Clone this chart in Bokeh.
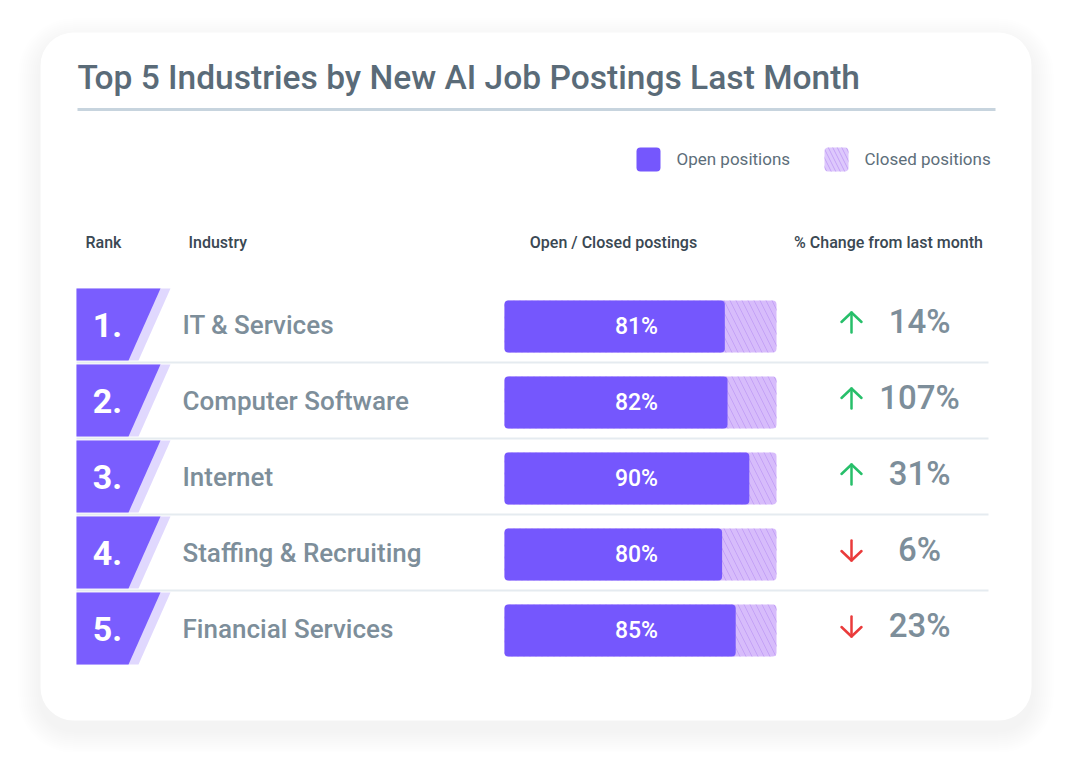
from bokeh.plotting import figure
from bokeh.models import Range1d, ColumnDataSource
from bokeh.core.properties import value
from bokeh.embed import file_html
from bokeh.resources import INLINE

# ---------------- data ----------------
title = "Top 5 Industries by New AI Job Postings Last Month"
ranks = [1, 2, 3, 4, 5]
industries = ["IT & Services", "Computer Software", "Internet",
              "Staffing & Recruiting", "Financial Services"]
open_pct = [81, 82, 90, 80, 85]
change_pct = [14, 107, 31, -6, -23]
headers = ["Rank", "Industry", "Open / Closed postings", "% Change from last month"]
legend_labels = ["Open positions", "Closed positions"]

# ---------------- style ----------------
FONT = "Roboto"
FONT_MED = "Roboto Medium"
PURPLE = "#7557fd"
LAVENDER = "#d7bcfb"
HATCH = "#c4a2f6"
RANK_BACK = "#e0d8fe"
RANK_FRONT = "#7a5dfe"
TITLE_C = "#5a6b78"
NAME_C = "#7d8e9a"
HEAD_C = "#3a4853"
SEP_C = "#e5ebf0"
UP_C = "#27bf6a"
DOWN_C = "#ea3b3b"

# layout (page pixels)
W, H = 1056, 752
BAR_X0, BAR_PX = 504, 272          # bar start and px for 100 %
ROW_Y0, ROW_PITCH = 250, 76        # page y of row 0, row pitch

p = figure(width=W, height=H, x_range=Range1d(0, W), y_range=Range1d(H, 0),
           output_backend="svg", toolbar_location=None, min_border=0,
           x_axis_location=None, y_axis_location=None)
p.grid.visible = False
p.outline_line_color = None
p.background_fill_color = "white"
p.border_fill_color = "white"

p.extra_x_ranges = {"pct": Range1d((0 - BAR_X0) * 100 / BAR_PX, (W - BAR_X0) * 100 / BAR_PX)}
p.extra_y_ranges = {"rows": Range1d((H - ROW_Y0) / ROW_PITCH, (0 - ROW_Y0) / ROW_PITCH)}

# ---------------- card with shadow ----------------
for i in range(11, 0, -1):
    d = i * 2
    p.quad(left=40 - d, right=1031 + d, top=32 - d + 8, bottom=720 + d + 10,
           border_radius=33 + d, fill_color="#556070", fill_alpha=0.008, line_color=None)
p.quad(left=40, right=1031, top=32, bottom=720, border_radius=33,
       fill_color="white", line_color=None)

# ---------------- title ----------------
p.text(x=[77], y=[77], text=[title], text_font=value(FONT_MED), text_font_size="33.5px",
       text_color=TITLE_C, text_baseline="middle", text_align="left")
p.segment(x0=[77], x1=[995], y0=[109], y1=[109], line_color="#c7d4de", line_width=3)

# ---------------- legend ----------------
p.quad(left=[636], right=[660], top=[147], bottom=[171], border_radius=4,
       fill_color=PURPLE, line_color=None)
p.quad(left=[824], right=[848], top=[147], bottom=[171], border_radius=4,
       fill_color="#ddc8fc", line_color=None, hatch_pattern="\\", hatch_color=HATCH,
       hatch_scale=9, hatch_weight=1)
p.text(x=[676, 864], y=[158, 158], text=legend_labels, text_font=value(FONT),
       text_font_size="17px", text_color="#5d6e7a", text_baseline="middle")

# ---------------- headers ----------------
p.text(x=[85, 188], y=[242, 242], text=headers[:2], text_font=value(FONT_MED),
       text_font_size="16px", text_color=HEAD_C, text_baseline="middle", text_align="left")
p.text(x=[613, 888], y=[242, 242], text=headers[2:], text_font=value(FONT_MED),
       text_font_size="16px", text_color=HEAD_C, text_baseline="middle", text_align="center")

# ---------------- rows ----------------
top_off, bot_off = -38 / ROW_PITCH, 34 / ROW_PITCH
back_xs, back_ys, front_xs, front_ys = [], [], [], []
for r in ranks:
    back_xs.append([76, 170, 138, 76])
    back_ys.append([r + top_off, r + top_off, r + bot_off, r + bot_off])
    front_xs.append([76, 160, 128, 76])
    front_ys.append([r + top_off, r + top_off, r + bot_off, r + bot_off])
p.patches(back_xs, back_ys, fill_color=RANK_BACK, line_color=None, y_range_name="rows")
p.patches(front_xs, front_ys, fill_color=RANK_FRONT, line_color=None, y_range_name="rows")

sep_y = [r + 36 / ROW_PITCH for r in ranks[:-1]]
p.segment(x0=76, x1=988, y0=sep_y, y1=sep_y, line_color=SEP_C, line_width=2,
          y_range_name="rows")

src = ColumnDataSource(dict(
    rank=ranks,
    rank_label=[f"{r}." for r in ranks],
    name=industries,
    open=open_pct,
    full=[100] * len(ranks),
    open_label=[f"{v}%" for v in open_pct],
    change_label=[f"{abs(v)}%" for v in change_pct],
    change_y=[r - 5 / ROW_PITCH for r in ranks],
    text_y=[r - 2 / ROW_PITCH for r in ranks],
    rank_y=[r - 2 / ROW_PITCH for r in ranks],
))

p.text(x=107, y="rank_y", text="rank_label", source=src, text_font=value(FONT),
       text_font_style="bold", text_font_size="34px", text_color="white",
       text_baseline="middle", text_align="center", y_range_name="rows")
p.text(x=182, y="text_y", text="name", source=src, text_font=value(FONT_MED),
       text_font_size="26px", text_color=NAME_C, text_baseline="middle",
       y_range_name="rows")

bar_h = 52 / ROW_PITCH
p.hbar(y="rank", left=0, right="full", height=bar_h, source=src, fill_color=LAVENDER,
       line_color=None, hatch_pattern="\\", hatch_color=HATCH, hatch_scale=12,
       hatch_weight=1, border_radius=4, x_range_name="pct", y_range_name="rows")
p.hbar(y="rank", left=0, right="open", height=bar_h, source=src, fill_color=PURPLE,
       line_color=None, border_radius=4, x_range_name="pct", y_range_name="rows")
p.text(x=48.5, y="rank", text="open_label", source=src, text_font=value(FONT_MED),
       text_font_size="23px", text_color="white", text_baseline="middle",
       text_align="center", x_range_name="pct", y_range_name="rows")

p.text(x=919, y="change_y", text="change_label", source=src, text_font=value(FONT_MED),
       text_font_size="33px", text_color=NAME_C, text_baseline="middle",
       text_align="center", y_range_name="rows")

# arrows
ax = 851
for r, v in zip(ranks, change_pct):
    c = r - 4 / ROW_PITCH
    s = 1 if v >= 0 else -1          # up for positive
    tip = c - s * 10 / ROW_PITCH
    tail = c + s * 10 / ROW_PITCH
    wing = tip + s * 9.5 / ROW_PITCH
    col = UP_C if v >= 0 else DOWN_C
    p.multi_line(xs=[[ax, ax], [ax - 10, ax, ax + 10]], ys=[[tail, tip], [wing, tip, wing]],
                 line_color=col, line_width=2.5, line_cap="round", line_join="round",
                 y_range_name="rows")

open("out.html", "w").write(file_html(p, INLINE))
